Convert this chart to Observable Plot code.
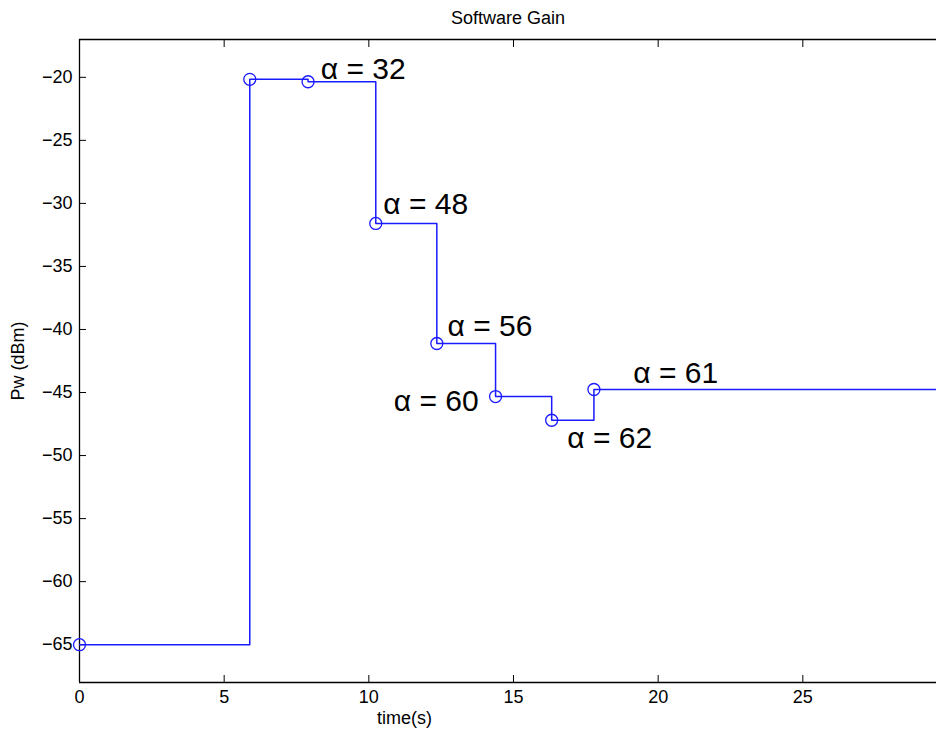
<!DOCTYPE html>
<html><head><meta charset="utf-8">
<script src="https://cdn.jsdelivr.net/npm/d3@7"></script>
<script src="https://cdn.jsdelivr.net/npm/@observablehq/plot@0.6"></script>
<style>body{margin:0;background:#fff;} svg{display:block;}</style>
</head><body><div id="chart"></div>
<script>
const times = [0, 5.885, 7.90, 10.24, 12.35, 14.38, 16.32, 17.78];
const power = [-65, -20.16, -20.35, -31.59, -41.11, -45.32, -47.20, -44.76];
const tEnd = 29.62;
const labelText = ["α = 32", "α = 48", "α = 56", "α = 60", "α = 62", "α = 61"];
const labelT = [8.34, 10.50, 12.72, 10.86, 16.86, 19.14];
const labelP = [-20.16, -30.85, -40.53, -46.48, -49.40, -44.24];
const xTicks = [0, 5, 10, 15, 20, 25];
const yTicks = [-65, -60, -55, -50, -45, -40, -35, -30, -25, -20];

const samples = times.map((t, i) => ({t, p: power[i]}));
const lineData = [...samples, {t: tEnd, p: power[power.length - 1]}];
const labels = labelText.map((s, i) => ({s, t: labelT[i], p: labelP[i]}));

const chart = Plot.plot({
  width: 936, height: 732,
  marginLeft: 79, marginRight: 0, marginTop: 39, marginBottom: 50,
  style: {fontFamily: "'Liberation Sans', Arial, sans-serif", fontSize: "18px", color: "black", background: "white"},
  x: {domain: [0, tEnd]},
  y: {domain: [-68, -17]},
  marks: [
    Plot.axisX({ticks: xTicks, tickSize: 0, tickPadding: 8, label: null, fontSize: 18}),
    Plot.axisX({ticks: xTicks, tickSize: -7, tickFormat: () => "", label: null}),
    Plot.axisX({ticks: xTicks, anchor: "top", tickSize: -7, tickFormat: () => "", label: null}),
    Plot.axisY({ticks: yTicks, tickSize: 0, tickPadding: 7, label: null, fontSize: 18}),
    Plot.axisY({ticks: yTicks, tickSize: -7, tickFormat: () => "", label: null}),
    Plot.ruleX([0], {stroke: "black", strokeWidth: 1.3}),
    Plot.ruleY([-68, -17], {stroke: "black", strokeWidth: 1.3}),
    Plot.line(lineData, {x: "t", y: "p", curve: "step-after", stroke: "#1a1aff", strokeWidth: 1.5}),
    Plot.dot(samples, {x: "t", y: "p", r: 6, stroke: "#1a1aff", fill: "none", strokeWidth: 1.3}),
    Plot.text(labels, {x: "t", y: "p", text: "s", textAnchor: "start", lineAnchor: "bottom", fontSize: 30, fill: "black"}),
    Plot.text(["Software Gain"], {frameAnchor: "top", dy: -21, textAnchor: "middle", lineAnchor: "middle", fontSize: 18, fill: "black"}),
    Plot.text(["Pw (dBm)"], {frameAnchor: "left", dx: -61, rotate: -90, textAnchor: "middle", lineAnchor: "middle", fontSize: 18, fill: "black"}),
    Plot.text(["time(s)"], {frameAnchor: "bottom-left", dx: 325, dy: 36, textAnchor: "middle", lineAnchor: "middle", fontSize: 18, fill: "black"})
  ]
});
document.getElementById("chart").appendChild(chart);
</script>
</body></html>
